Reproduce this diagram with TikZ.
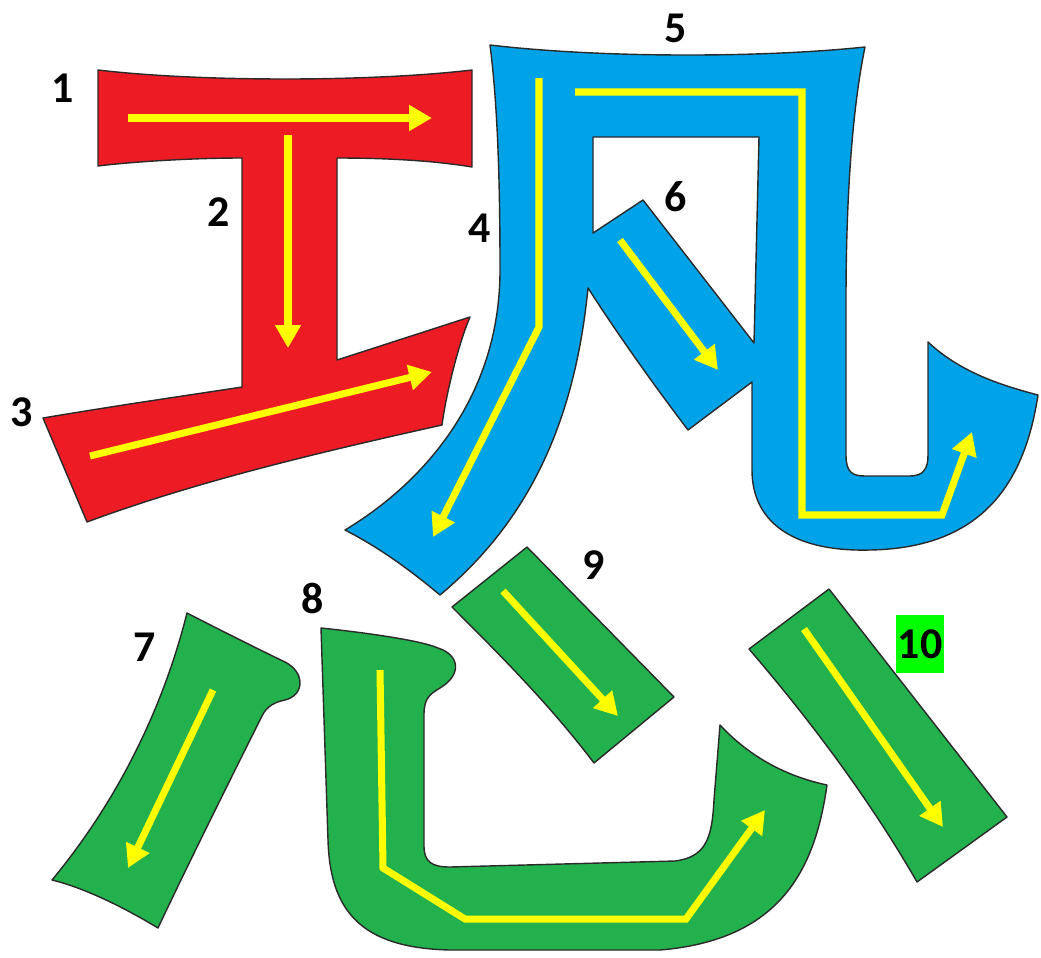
\documentclass[tikz,border=0pt]{standalone}
\usepackage{tikz}
\usetikzlibrary{arrows.meta}
\usepackage{xcolor}
\usepackage{fontspec}
\setsansfont{Carlito}
\definecolor{StrokeRed}{HTML}{ED1C24}
\definecolor{StrokeBlue}{HTML}{00A2E8}
\definecolor{StrokeGreen}{HTML}{22B14C}
\definecolor{Guide}{HTML}{FFFF00}
\definecolor{Edge}{HTML}{2A2A2A}

\begin{document}
\begin{tikzpicture}[x=0.02cm,y=-0.02cm,
  part/.style={draw=Edge,line width=0.8pt,line join=round},
  guide/.style={draw=Guide,line width=4pt,line join=miter,-{Triangle[length=13pt,width=14pt]}},
  num/.style={font=\sffamily\bfseries\fontsize{25}{25}\selectfont,inner sep=1pt}]
\useasboundingbox (0,0) rectangle (1041,957);
% red: strokes 1-3
\path[part,fill=StrokeRed] (98,70) .. controls (200,82) and (370,82) .. (472,70) -- (472,167)
  .. controls (430,160) and (380,158) .. (337,158) -- (337,360) -- (470,317)
  .. controls (458,345) and (446,395) .. (442,425) .. controls (330,450) and (200,480) .. (87,522)
  -- (43,418) .. controls (120,405) and (190,395) .. (242,387) -- (242,158)
  .. controls (190,158) and (130,162) .. (98,166) -- cycle;
% blue: strokes 4-6, with the hole
\path[part,fill=StrokeBlue,even odd rule] (490,45) .. controls (600,58) and (760,58) .. (865,47)
  .. controls (852,110) and (846,200) .. (846,300) -- (846,455)
  .. controls (846,472) and (852,476) .. (865,476) -- (910,476)
  .. controls (924,476) and (928,468) .. (928,455) -- (928,342)
  .. controls (960,372) and (1000,385) .. (1038,395)
  .. controls (1025,480) and (985,548) .. (870,550) .. controls (790,552) and (752,520) .. (752,470)
  -- (752,382) -- (688,430) .. controls (650,380) and (615,330) .. (588,288)
  .. controls (575,420) and (530,520) .. (440,595) .. controls (410,570) and (380,548) .. (345,530)
  .. controls (420,485) and (500,400) .. (500,270) .. controls (500,170) and (497,100) .. (490,45) -- cycle
  (593,137) -- (759,137) -- (754,343) -- (643,200) -- (593,233) -- cycle;
% green: strokes 7-10
\path[part,fill=StrokeGreen] (187,613) .. controls (220,630) and (260,650) .. (285,662)
  .. controls (305,672) and (305,695) .. (285,700) .. controls (270,703) and (265,710) .. (262,716)
  .. controls (240,760) and (190,860) .. (158,928) .. controls (125,908) and (85,888) .. (52,880)
  .. controls (110,810) and (160,720) .. (187,613) -- cycle;
\path[part,fill=StrokeGreen] (321,628) .. controls (360,632) and (420,640) .. (438,648)
  .. controls (460,655) and (462,675) .. (440,688) .. controls (428,695) and (424,700) .. (424,715)
  -- (424,846) .. controls (424,862) and (432,867) .. (450,867) -- (675,861)
  .. controls (705,857) and (712,840) .. (714,800) -- (720,725)
  .. controls (745,752) and (780,775) .. (827,785) .. controls (815,870) and (780,940) .. (660,950)
  -- (450,950) .. controls (360,948) and (330,910) .. (328,840) -- cycle;
\path[part,fill=StrokeGreen] (527,547) -- (674,697) -- (594,763) .. controls (550,705) and (500,655) .. (452,607) -- cycle;
\path[part,fill=StrokeGreen] (829,589) -- (1007,817) -- (917,882) .. controls (870,800) and (810,720) .. (749,649) -- cycle;
% direction guides
\draw[guide] (128,118) -- (432,118);
\draw[guide] (288,135) -- (288,348);
\draw[guide] (90,456) -- (432,372);
\draw[guide] (539,78) -- (539,327) -- (433,537);
\draw[guide] (575,92) -- (802,92) -- (802,515) -- (942,515) -- (972,432);
\draw[guide] (620,240) -- (718,370);
\draw[guide] (213,690) -- (128,868);
\draw[guide] (380,670) -- (383,868) -- (465,919) -- (686,919) -- (765,810);
\draw[guide] (503,591) -- (618,716);
\draw[guide] (804,629) -- (943,827);
% numbers
\node[num] (n1) at (63,88) {1};
\node[num] (n2) at (219,212) {2};
\node[num] (n3) at (22,412) {3};
\node[num] (n4) at (480,228) {4};
\node[num] (n5) at (676,28) {5};
\node[num] (n6) at (676,197) {6};
\node[num] (n7) at (145,647) {7};
\node[num] (n8) at (313,598) {8};
\node[num] (n9) at (594,565) {9};
\node[num,fill=green,minimum width=27pt,minimum height=33pt,inner sep=0pt] (n10) at (920,644) {10};
\end{tikzpicture}
\end{document}
